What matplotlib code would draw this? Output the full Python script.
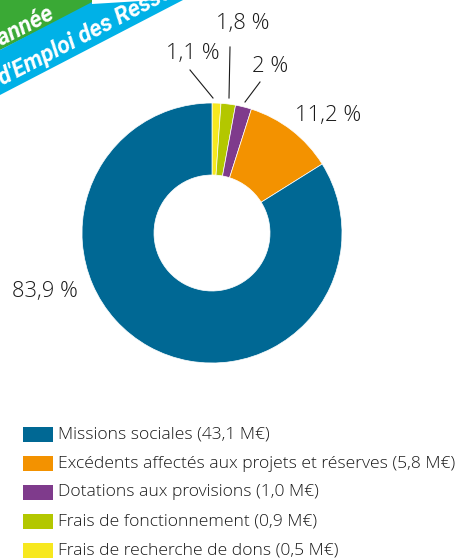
import matplotlib
matplotlib.use('Agg')
import matplotlib.pyplot as plt
from matplotlib.patches import Polygon, Rectangle

# data
categories = ["Missions sociales", "Excédents affectés aux projets et réserves",
              "Dotations aux provisions", "Frais de fonctionnement",
              "Frais de recherche de dons"]
amounts = [43.1, 5.8, 1.0, 0.9, 0.5]          # M€
shares = [83.9, 11.2, 2.0, 1.8, 1.1]          # %
share_labels = ["83,9 %", "11,2 %", "2 %", "1,8 %", "1,1 %"]
colors = ["#006894", "#f39200", "#7f3b8c", "#b3c700", "#f7e81f"]

W, H = 460, 560
txt_color = "#1a1a1a"
font = "Open Sans"

fig = plt.figure(figsize=(W / 100, H / 100), dpi=100)
ax = fig.add_axes([0, 0, 1, 1])

# donut, drawn clockwise from 12 o'clock starting with the smallest slice
# (y axis is flipped below so counterclock=True shows clockwise)
ax.pie(shares[::-1], colors=colors[::-1], center=(212, 233), radius=130,
       startangle=-90, counterclock=True,
       wedgeprops=dict(width=72, edgecolor="white", linewidth=0.5))

ax.set_xlim(0, W)
ax.set_ylim(H, 0)
ax.set_aspect('equal')
ax.axis('off')

# percentage labels (pixel positions)
label_pos = {"83,9 %": (45, 291), "11,2 %": (328, 115), "2 %": (270, 67),
             "1,8 %": (243, 23), "1,1 %": (193, 54)}
for lab in share_labels:
    x, y = label_pos[lab]
    ax.text(x, y, lab, fontsize=15.8, family=font, weight='light',
            color=txt_color, ha='center', va='center')

# leader lines for the small slices
leaders = [((190, 70), (213, 98)), ((230, 47), (229, 98)), ((260, 82), (245, 102))]
for (x0, y0), (x1, y1) in leaders:
    ax.plot([x0, x1], [y0, y1], color=txt_color, lw=0.8)

# banners top left
slope = 0.519
ax.add_patch(Polygon([(0, 0), (92, 0), (92, 52 - slope * 92), (0, 50)],
                     closed=True, color="#3aa935", lw=0))
ax.add_patch(Polygon([(0, 50), (96, 0), (183, 0), (0, 95)],
                     closed=True, color="#00b1e7", lw=0))
ax.add_patch(Polygon([(92, 0), (157, 0), (92, 4)], closed=True, color="white", lw=0))
ax.text(-6, 50, "l'année", fontsize=16.5, family="Roboto", weight='bold', style='italic',
        color="white", rotation=27.4, rotation_mode='anchor', ha='left', va='baseline')
ax.text(3, 86, "d'Emploi des Ressources", fontsize=16.5, family="Roboto", weight='bold',
        style='italic', color="white", rotation=27.4, rotation_mode='anchor',
        ha='left', va='baseline', clip_on=True)

# legend
for i, (name, amt, col) in enumerate(zip(categories, amounts, colors)):
    y = 434.5 + i * 29
    ax.add_patch(Rectangle((23, y - 7.5), 30, 15, color=col, lw=0))
    ax.text(58, y, f"{name} ({amt:.1f} M€)".replace('.', ','), fontsize=12.6,
            family=font, weight='light', color=txt_color, ha='left', va='center')

fig.savefig("out.png", dpi=100)
